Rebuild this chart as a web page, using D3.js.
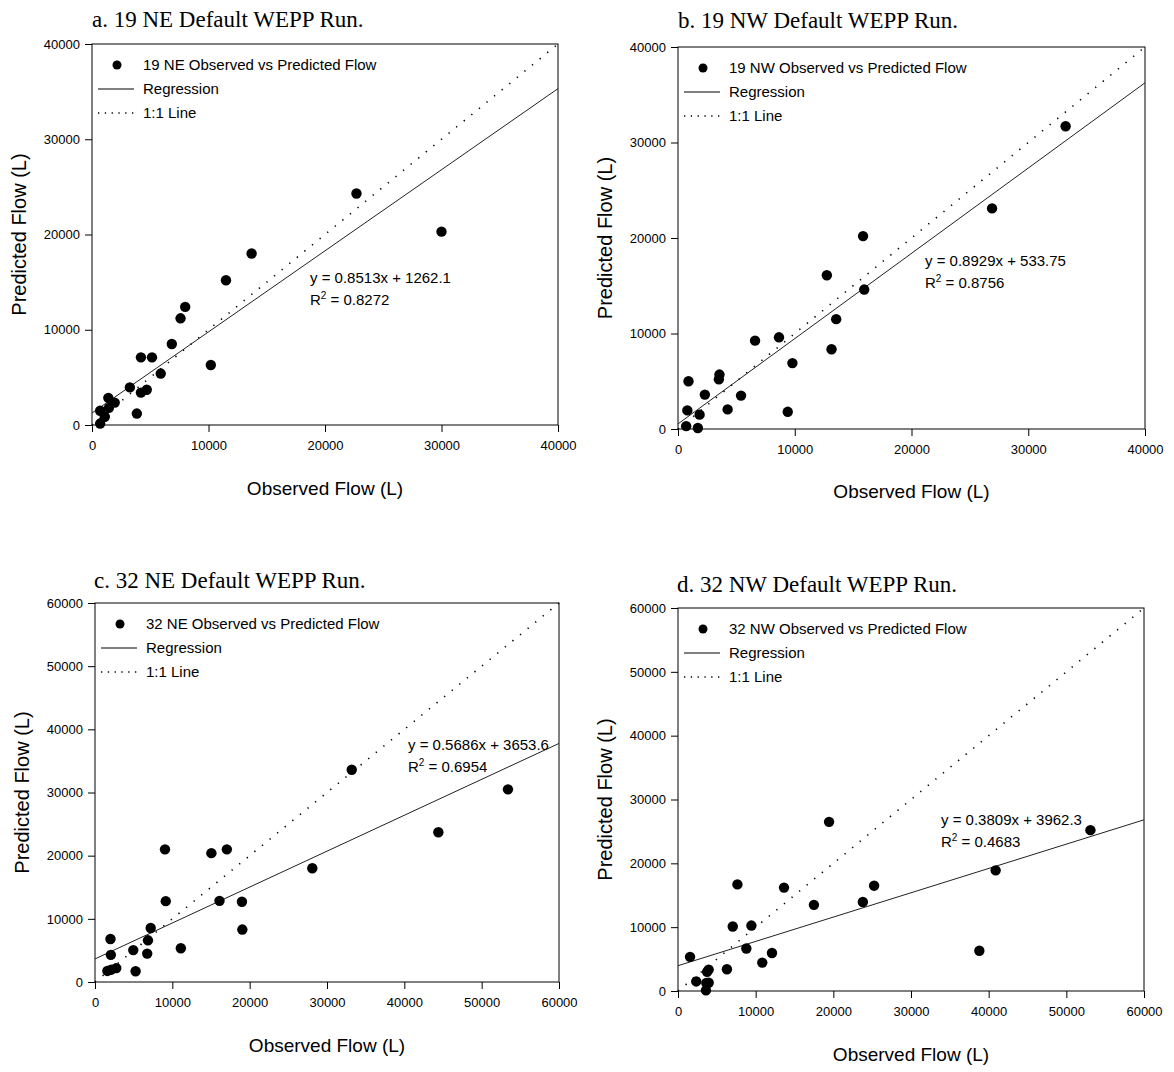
<!DOCTYPE html>
<html>
<head>
<meta charset="utf-8">
<script src="https://cdn.jsdelivr.net/npm/d3@7"></script>
<style>
  body { margin: 0; background: #fff; }
  svg text { font-family: "Liberation Sans", Arial, sans-serif; fill: #000; }
  .title { font-family: "Liberation Serif", "Times New Roman", serif; }
</style>
</head>
<body>
<script>
// observed / predicted flow (L)
const obsA  = [22700, 30000, 13700, 11500, 8000, 7600, 6850, 4200, 5150, 10200, 5900, 3250, 4200, 4700, 1400, 1450, 1950, 700, 1100, 700, 3850];
const predA = [24300, 20300, 18000, 15200, 12400, 11200, 8500, 7100, 7100, 6300, 5400, 3950, 3400, 3700, 2850, 1800, 2350, 1500, 870, 150, 1200];

const obsB  = [33200, 26900, 15850, 12750, 15950, 13550, 13150, 8650, 6600, 9800, 9400, 3550, 3500, 5400, 2300, 900, 4250, 800, 1850, 700, 1700];
const predB = [31700, 23100, 20200, 16100, 14600, 11500, 8350, 9600, 9250, 6900, 1800, 5700, 5200, 3500, 3600, 5000, 2050, 1950, 1500, 300, 100];

const obsC  = [33200, 53400, 44400, 28100, 9050, 15050, 17050, 9150, 16100, 19000, 19050, 11100, 7200, 6850, 6750, 4950, 2000, 2050, 2750, 2100, 1600, 5250];
const predC = [33600, 30500, 23700, 18000, 21000, 20400, 21000, 12800, 12850, 12700, 8300, 5350, 8550, 6600, 4500, 5050, 6800, 4300, 2200, 1950, 1750, 1700];

const obsD  = [53100, 40900, 38800, 19450, 7650, 13650, 25250, 23800, 17500, 7050, 9450, 8800, 12100, 10850, 1550, 6300, 3950, 3750, 2350, 3950, 3650, 3600];
const predD = [25200, 18900, 6300, 26500, 16700, 16200, 16500, 13950, 13500, 10100, 10250, 6650, 5950, 4450, 5350, 3400, 3350, 3000, 1500, 1300, 1250, 100];

// regression results printed on each panel
const slopes     = [0.8513, 0.8929, 0.5686, 0.3809];
const intercepts = [1262.1, 533.75, 3653.6, 3962.3];
const r2Values   = ["0.8272", "0.8756", "0.6954", "0.4683"];
const sites      = ["19 NE", "19 NW", "32 NE", "32 NW"];
const letters    = ["a", "b", "c", "d"];
const axisMax    = [40000, 40000, 60000, 60000];

const W = 1174, H = 1072;
const svg = d3.select("body").append("svg").attr("width", W).attr("height", H);

// plot boxes [left, top, right, bottom], title and equation anchors
const layout = [
  {box: [92, 44, 558, 425],   title: [92, 27],   eq: [310, 283], xlab: 495},
  {box: [678, 47, 1145, 429], title: [678, 28],  eq: [925, 266], xlab: 498},
  {box: [95, 603, 559, 982],  title: [94, 588],  eq: [408, 750], xlab: 1052},
  {box: [678, 608, 1144, 991], title: [677, 592], eq: [941, 825], xlab: 1061}
];

const obsAll = [obsA, obsB, obsC, obsD];
const predAll = [predA, predB, predC, predD];

function drawPanel(i) {
  const L = layout[i];
  const [x0, y0, x1, y1] = L.box;
  const max = axisMax[i];
  const x = d3.scaleLinear().domain([0, max]).range([x0, x1]);
  const y = d3.scaleLinear().domain([0, max]).range([y1, y0]);
  const g = svg.append("g");

  // title
  g.append("text").attr("class", "title")
    .attr("x", L.title[0]).attr("y", L.title[1])
    .style("font-size", "23px")
    .text(`${letters[i]}. ${sites[i]} Default WEPP Run.`);

  // frame
  g.append("rect").attr("x", x0).attr("y", y0)
    .attr("width", x1 - x0).attr("height", y1 - y0)
    .attr("fill", "none").attr("stroke", "#000").attr("stroke-width", 1);

  const ticks = d3.range(0, max + 1, 10000);
  const xAxis = g.append("g").attr("transform", `translate(0,${y1})`)
    .call(d3.axisBottom(x).tickValues(ticks).tickFormat(d3.format("d")).tickSize(7).tickPadding(9));
  const yAxis = g.append("g").attr("transform", `translate(${x0},0)`)
    .call(d3.axisLeft(y).tickValues(ticks).tickFormat(d3.format("d")).tickSize(7).tickPadding(5));
  [xAxis, yAxis].forEach(a => {
    a.select(".domain").remove();
    a.selectAll("line").attr("stroke", "#000");
    a.selectAll("text").style("font-size", "13px").attr("fill", "#000")
      .style("font-family", "'Liberation Sans', Arial, sans-serif");
  });

  // axis titles
  g.append("text").attr("x", (x0 + x1) / 2).attr("y", L.xlab)
    .attr("text-anchor", "middle").style("font-size", "19px")
    .text("Observed Flow (L)");
  g.append("text")
    .attr("transform", `translate(${x0 - 73},${(y0 + y1) / 2}) rotate(-90)`)
    .attr("dy", "0.35em").attr("text-anchor", "middle").style("font-size", "20px")
    .text("Predicted Flow (L)");

  // 1:1 line and regression
  const line = d3.line().x(d => x(d[0])).y(d => y(d[1]));
  g.append("path").datum([[0, 0], [max, max]]).attr("d", line)
    .attr("stroke", "#000").attr("stroke-width", 1.6).attr("stroke-dasharray", "1.3,8.5").attr("fill", "none");
  g.append("path").datum([[0, intercepts[i]], [max, slopes[i] * max + intercepts[i]]]).attr("d", line)
    .attr("stroke", "#222").attr("stroke-width", 1).attr("fill", "none");

  // points
  g.selectAll("circle.pt").data(obsAll[i].map((o, k) => [o, predAll[i][k]]))
    .enter().append("circle").attr("class", "pt")
    .attr("cx", d => x(d[0])).attr("cy", d => y(d[1]))
    .attr("r", 5.2).attr("fill", "#000");

  // equation
  const eq = g.append("g").style("font-size", "15px");
  eq.append("text").attr("x", L.eq[0]).attr("y", L.eq[1])
    .text(`y = ${slopes[i]}x + ${intercepts[i]}`);
  const r2 = eq.append("text").attr("x", L.eq[0]).attr("y", L.eq[1] + 22);
  r2.append("tspan").text("R");
  r2.append("tspan").attr("dy", -6).style("font-size", "10px").text("2");
  r2.append("tspan").attr("dy", 6).text(` = ${r2Values[i]}`);

  // legend
  const lg = g.append("g").style("font-size", "15px");
  const rows = [y0 + 21, y0 + 45, y0 + 69];
  lg.append("circle").attr("cx", x0 + 25).attr("cy", rows[0]).attr("r", 4.5).attr("fill", "#000");
  lg.append("line").attr("x1", x0 + 6).attr("x2", x0 + 42).attr("y1", rows[1]).attr("y2", rows[1])
    .attr("stroke", "#000").attr("stroke-width", 1);
  lg.append("line").attr("x1", x0 + 6).attr("x2", x0 + 42).attr("y1", rows[2]).attr("y2", rows[2])
    .attr("stroke", "#000").attr("stroke-width", 1.6).attr("stroke-dasharray", "1.3,5.5");
  const labels = [`${sites[i]} Observed vs Predicted Flow`, "Regression", "1:1 Line"];
  labels.forEach((t, k) => {
    lg.append("text").attr("x", x0 + 51).attr("y", rows[k]).attr("dy", "0.35em").text(t);
  });
}

[0, 1, 2, 3].forEach(drawPanel);
</script>
</body>
</html>
